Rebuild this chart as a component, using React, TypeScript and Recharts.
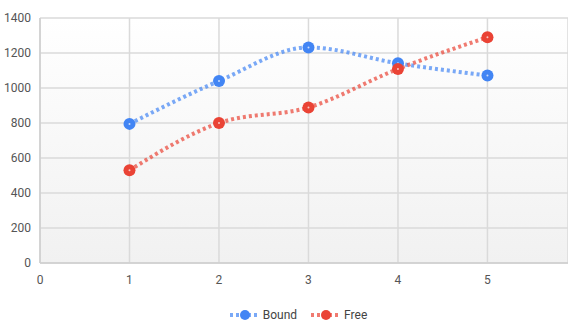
import { LineChart, Line, XAxis, YAxis, CartesianGrid, Legend } from "recharts";

const xs = [1, 2, 3, 4, 5];
const bound = [795, 1040, 1232, 1141, 1071];
const free = [530, 800, 889, 1109, 1290];
const yTicks = [0, 200, 400, 600, 800, 1000, 1200, 1400];
const xTicks = [0, 1, 2, 3, 4, 5];

const BLUE = "#4285f4";
const RED = "#ea4335";
const FONT = "Roboto, Arial, sans-serif";

const data = xs.map((x, i) => ({ x, bound: bound[i], free: free[i] }));

const series = [
  { key: "bound", name: "Bound", color: BLUE },
  { key: "free", name: "Free", color: RED },
];

function makeDot(color: string) {
  return (props: any) => {
    const { cx, cy, index } = props;
    if (cx == null || cy == null) return <g key={index} />;
    return (
      <g key={index}>
        <circle cx={cx} cy={cy} r={6} fill={color} />
        <circle cx={cx} cy={cy} r={1} fill="#fff" opacity={0.7} />
      </g>
    );
  };
}

function LegendContent() {
  return (
    <div
      style={{
        display: "flex",
        justifyContent: "center",
        gap: 13,
        paddingTop: 10,
        paddingLeft: 28,
        fontFamily: FONT,
        fontSize: 12,
        color: "#444",
      }}
    >
      {series.map((s) => (
        <div key={s.key} style={{ display: "flex", alignItems: "center", gap: 4 }}>
          <svg width={30} height={14}>
            <line x1={1} y1={7} x2={29} y2={7} stroke={s.color} strokeOpacity={0.7} strokeWidth={4} strokeDasharray="3 3" />
            <circle cx={16} cy={7} r={5} fill={s.color} />
          </svg>
          <span>{s.name}</span>
        </div>
      ))}
    </div>
  );
}

export default function App() {
  return (
    <div style={{ position: "absolute", left: 0, top: 0, width: 568, height: 322, overflow: "hidden", background: "#fff" }}>
      <LineChart width={568} height={322} data={data} margin={{ top: 18, right: 0, left: 0, bottom: 0 }}>
        <defs>
          <linearGradient id="plotBg" x1="0" y1="0" x2="0" y2="1">
            <stop offset="0%" stopColor="#ffffff" />
            <stop offset="100%" stopColor="#f1f1f1" />
          </linearGradient>
        </defs>
        <CartesianGrid fill="url(#plotBg)" stroke="#dadada" strokeWidth={1.5} />
        <XAxis
          dataKey="x"
          type="number"
          domain={[0, 5.9]}
          ticks={xTicks}
          allowDataOverflow
          height={35}
          tickSize={0}
          tickMargin={12}
          axisLine={{ stroke: "#cfcfcf", strokeWidth: 1.5 }}
          tick={{ fontSize: 12, fill: "#555", fontFamily: FONT }}
        />
        <YAxis
          domain={[0, 1400]}
          ticks={yTicks}
          width={40}
          tickSize={0}
          tickMargin={9}
          axisLine={{ stroke: "#cfcfcf", strokeWidth: 1.5 }}
          tick={{ fontSize: 12, fill: "#555", fontFamily: FONT }}
        />
        <Legend verticalAlign="bottom" height={24} content={<LegendContent />} />
        {series.map((s) => (
          <Line
            key={s.key}
            type="monotone"
            dataKey={s.key}
            name={s.name}
            stroke={s.color}
            strokeOpacity={0.7}
            strokeWidth={4}
            strokeDasharray="3 3"
            dot={makeDot(s.color)}
            activeDot={false}
            isAnimationActive={false}
          />
        ))}
      </LineChart>
    </div>
  );
}
